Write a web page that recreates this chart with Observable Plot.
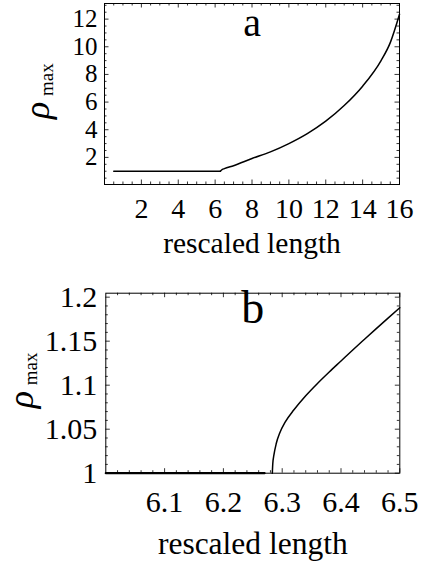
<!DOCTYPE html>
<html><head><meta charset="utf-8">
<script src="https://cdn.jsdelivr.net/npm/d3@7"></script>
<script src="https://cdn.jsdelivr.net/npm/@observablehq/plot@0.6"></script>
<style>
body{margin:0;background:#fff;}
#chart svg{display:block;}
</style></head><body><div id="chart"></div>
<script>
// ---------- data ----------
// panel a
const aFlatX = [0.5, 6.2832];
const aFlatY = [1, 1];
const aBranchX = [6.2832, 6.35, 6.5, 7, 8, 9, 10, 11, 12, 13, 14, 15, 15.5, 16];
const aBranchY = [1, 1.09, 1.19, 1.40, 1.92, 2.40, 3.0, 3.72, 4.62, 5.75, 7.15, 9.0, 10.3, 12.35];
// panel b
const bFlatX = [6.0, 6.27];
const bFlatY = [1, 1];
const bBranchX = [6.2832, 6.2840, 6.2860, 6.290, 6.296, 6.305, 6.32, 6.34, 6.36, 6.38, 6.40, 6.42, 6.44, 6.46, 6.48, 6.50];
const bBranchY = [1.000, 1.011, 1.021, 1.034, 1.046, 1.058, 1.072, 1.088, 1.102, 1.115, 1.1275, 1.140, 1.1522, 1.1643, 1.1762, 1.188];
// tick labels
const aXTicks = [2, 4, 6, 8, 10, 12, 14, 16];
const aYTicks = [2, 4, 6, 8, 10, 12];
const bXTicks = [6.1, 6.2, 6.3, 6.4, 6.5];
const bYTicks = [1, 1.05, 1.1, 1.15, 1.2];
const xLabel = "rescaled length";
const panelLetters = ["a", "b"];

// ---------- drawing ----------
const W = 424;
const FONT = "'Liberation Serif', 'Times New Roman', serif";
const toRows = (xs, ys) => xs.map((x, i) => ({x, y: ys[i]}));
const fmt = d => String(+d.toFixed(4));

function panel(c) {
  const fw = W - c.ml - c.mr;
  const fh = c.h - c.mt - c.mb;
  const ink = {stroke: "#000", strokeWidth: 0.8};
  const major = 4.5, minor = 2.5;
  return Plot.plot({
    width: W, height: c.h,
    marginTop: c.mt, marginBottom: c.mb, marginLeft: c.ml, marginRight: c.mr,
    style: {fontFamily: FONT, fontSize: c.tickFs + "px", background: "#fff", color: "#000", overflow: "visible"},
    x: {domain: c.xDomain},
    y: {domain: c.yDomain},
    marks: [
      Plot.ruleX(c.xMinor, {...ink, insetTop: fh - minor}),
      Plot.ruleX(c.xMinor, {...ink, insetBottom: fh - minor}),
      Plot.ruleX(c.xTicks, {...ink, insetTop: fh - major}),
      Plot.ruleX(c.xTicks, {...ink, insetBottom: fh - major}),
      Plot.ruleY(c.yMinor, {...ink, insetRight: fw - minor}),
      Plot.ruleY(c.yMinor, {...ink, insetLeft: fw - minor}),
      Plot.ruleY(c.yTicks, {...ink, insetRight: fw - major}),
      Plot.ruleY(c.yTicks, {...ink, insetLeft: fw - major}),
      Plot.frame({stroke: "#000", strokeWidth: 1}),
      Plot.axisX(c.xTicks, {tickSize: 0, tickPadding: c.xPad, tickFormat: fmt, label: null, fontSize: c.tickFs, fontFamily: FONT}),
      Plot.axisY(c.yTicks, {tickSize: 0, tickPadding: c.yPad, tickFormat: fmt, label: null, fontSize: c.yTickFs, fontFamily: FONT}),
      Plot.line(c.flat, {x: "x", y: "y", stroke: "#000", strokeWidth: c.flatWidth}),
      Plot.line(c.branch, {x: "x", y: "y", stroke: "#000", strokeWidth: 1.5, curve: "monotone-x"}),
      Plot.text([c.letter], {text: d => d, frameAnchor: "top", lineAnchor: "top", dy: c.letterDy, fontSize: c.letterFs, fontFamily: FONT}),
      Plot.text([xLabel], {text: d => d, frameAnchor: "bottom", lineAnchor: "bottom", dy: c.labelDy, fontSize: c.labelFs, fontFamily: FONT}),
      Plot.text(["ρ"], {text: d => d, frameAnchor: "left", rotate: -90, lineAnchor: "bottom", dx: c.rhoDx, dy: c.rhoDy, fontSize: 36, fontStyle: "italic", fontFamily: FONT}),
      Plot.text(["max"], {text: d => d, frameAnchor: "left", rotate: -90, lineAnchor: "bottom", dx: c.rhoDx + 4, dy: c.rhoDy - 23, fontSize: 19, fontFamily: FONT})
    ]
  });
}

const chart = document.getElementById("chart");
chart.append(panel({
  h: 268, mt: 3, mb: 84, ml: 104, mr: 25,
  xDomain: [0, 16], yDomain: [0.04, 13.13],
  xTicks: aXTicks, yTicks: aYTicks,
  xMinor: d3.range(0.5, 16, 0.5).filter(v => v % 2 !== 0),
  yMinor: d3.range(0.5, 13.1, 0.5).filter(v => v % 2 !== 0),
  flat: toRows(aFlatX, aFlatY), branch: toRows(aBranchX, aBranchY),
  flatWidth: 1.5, letter: panelLetters[0], letterFs: 40, letterDy: 4,
  tickFs: 28, yTickFs: 25, labelFs: 29.5, xPad: 14, yPad: 7, labelDy: 68, rhoDx: -56, rhoDy: 25
}));
chart.append(panel({
  h: 293, mt: 24.7, mb: 88.3, ml: 105.3, mr: 24.7,
  xDomain: [6.0, 6.5], yDomain: [1.0, 1.2045],
  xTicks: bXTicks, yTicks: bYTicks,
  xMinor: d3.range(0, 25).map(i => 6.0 + i * 0.02).filter(v => Math.abs(v * 10 - Math.round(v * 10)) > 1e-6),
  yMinor: d3.range(0, 21).map(i => 1.0 + i * 0.01).filter(v => Math.abs(v * 20 - Math.round(v * 20)) > 1e-6),
  flat: toRows(bFlatX, bFlatY), branch: toRows(bBranchX, bBranchY),
  flatWidth: 2.2, letter: panelLetters[1], letterFs: 46, letterDy: -2.5,
  tickFs: 30, yTickFs: 30, labelFs: 31.5, xPad: 17, yPad: 8.5, labelDy: 81, rhoDx: -73, rhoDy: 25
}));
</script></body></html>
